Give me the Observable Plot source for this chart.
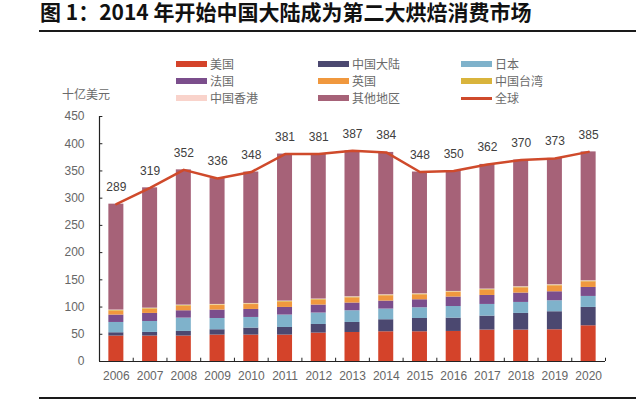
<!DOCTYPE html>
<html><head><meta charset="utf-8">
<script src="https://cdn.jsdelivr.net/npm/d3@7"></script>
<script src="https://cdn.jsdelivr.net/npm/@observablehq/plot@0.6"></script>
<style>
body{margin:0;background:#fff;}
#wrap{position:relative;width:640px;height:401px;overflow:hidden;font-family:"Noto Sans CJK SC","Noto Sans",sans-serif;}
#chart{position:absolute;left:0;top:0;}
#title{position:absolute;left:40px;top:1px;font-size:21px;line-height:21px;font-weight:700;color:#111;white-space:nowrap;}
.hr{position:absolute;left:39px;width:597px;height:2px;background:#1a1a1a;}
.lt{position:absolute;font-size:12px;line-height:14px;color:#6a6a6a;white-space:nowrap;}
.sw{position:absolute;width:31px;}
</style>
</head><body>
<div id="wrap">
  <div id="title">图 1：2014 年开始中国大陆成为第二大烘焙消费市场</div>
  <div class="hr" style="top:30px"></div>
  <div class="hr" style="top:397px"></div>
  <div class="lt" style="left:62px;top:87px">十亿美元</div>
  <div id="legend"></div>
  <div id="chart"></div>
</div>
<script>
const years = [2006,2007,2008,2009,2010,2011,2012,2013,2014,2015,2016,2017,2018,2019,2020];
const seriesNames = ["美国","中国大陆","日本","法国","英国","中国台湾","中国香港","其他地区"];
const seriesColors = ["#d4432a","#4b4870","#7fb2cb","#7b4e8c","#f0983e","#d9b43c","#f9d3cb","#a66278"];
const usa      = [46.7,46.7,46.7,48.5,48.5,48.5,52.2,53.3,54.6,54.6,55.2,57.7,57.7,58.3,65.6];
const china    = [6.1,6.7,8.5,9.8,12.9,14.0,15.8,18.4,22.1,24.4,24.5,25.7,30.6,33.1,33.7];
const japan    = [18.9,20.1,24.5,20.7,19.5,22.8,21.0,21.5,19.6,19.7,21.3,21.4,20.2,20.2,20.2];
const france   = [13.6,14.8,13.5,15.5,14.7,14.0,14.7,14.2,14.7,14.7,17.4,16.5,17.2,16.5,16.5];
const uk       = [7.2,7.7,8.4,8.3,9.0,9.7,9.0,9.5,9.6,9.0,8.3,9.7,9.6,10.9,10.3];
const taiwan   = [1.2,1.2,1.2,1.2,1.2,1.2,1.2,1.2,1.2,1.2,1.2,1.2,1.2,1.2,1.2];
const hongkong = [0.8,0.8,0.8,0.8,0.8,0.8,0.8,0.8,0.8,0.8,0.8,0.8,0.8,0.8,0.8];
const others   = [194.5,221.0,248.4,231.2,241.4,270.0,266.3,268.1,261.4,223.6,221.3,229.0,232.7,232.0,236.7];
const totals   = [289,319,352,336,348,381,381,387,384,348,350,362,370,373,385];
const yTicks   = [0,50,100,150,200,250,300,350,400,450];
const totalName = "全球";
const totalColor = "#cf4a2b";

const seriesValues = [usa,china,japan,france,uk,taiwan,hongkong,others];
const long = [];
seriesNames.forEach((s,i)=>years.forEach((yr,j)=>long.push({year:yr,series:s,value:seriesValues[i][j]})));
const totalData = years.map((yr,i)=>({year:yr,total:totals[i]}));
const half = 0.2225;
const xStart = years[0]-0.5, xEnd = years[years.length-1]+0.5;
const xTickPos = [xStart, ...years.map(y=>y+0.5)];

// legend
const legendOrder = [["美国","中国大陆","日本"],["法国","英国","中国台湾"],["中国香港","其他地区",totalName]];
const colX = [176,318,461], rowY = [64,81,98];
const leg = document.getElementById("legend");
legendOrder.forEach((row,r)=>row.forEach((name,c)=>{
  const sw = document.createElement("div");
  sw.className="sw";
  const isLine = name===totalName;
  const h = isLine?3:6;
  sw.style.left = colX[c]+"px";
  sw.style.top = (rowY[r]-h/2)+"px";
  sw.style.height = h+"px";
  sw.style.background = isLine?totalColor:seriesColors[seriesNames.indexOf(name)];
  leg.appendChild(sw);
  const t = document.createElement("div");
  t.className="lt";
  t.style.left=(colX[c]+34)+"px";
  t.style.top=(rowY[r]-7)+"px";
  t.textContent=name;
  leg.appendChild(t);
}));

const chart = Plot.plot({
  width:640, height:401,
  marginTop:116, marginBottom:40, marginLeft:99, marginRight:35,
  x:{type:"linear", domain:[xStart,xEnd], label:null},
  y:{domain:[0,450], label:null},
  color:{domain:seriesNames, range:seriesColors},
  style:{fontFamily:'"Liberation Sans",Arial,sans-serif', fontSize:"12px", color:"#595959", background:"transparent"},
  marks:[
    Plot.rectY(long, Plot.stackY({x:"year", x1:d=>d.year-half, x2:d=>d.year+half, y:"value", z:"series", order:seriesNames, fill:"series"})),
    Plot.ruleY([0], {stroke:"#222", strokeWidth:1.2}),
    Plot.ruleX([xStart], {stroke:"#222", strokeWidth:1.2}),
    Plot.ruleY(yTicks, {y:d=>d, x1:xStart, x2:xStart+0.1, stroke:"#222"}),
    Plot.ruleX(xTickPos, {x:d=>d, y1:0, y2:6, stroke:"#222"}),
    Plot.axisY(yTicks, {tickSize:0, tickPadding:15, fill:"#666", fontSize:12, label:null}),
    Plot.axisX(years, {tickSize:0, tickPadding:10, fill:"#666", fontSize:12, tickFormat:d=>String(d), label:null}),
    Plot.line(totalData, {x:"year", y:"total", stroke:totalColor, strokeWidth:2.5}),
    Plot.text(totalData, {x:"year", y:"total", text:d=>String(d.total), dy:-17, fill:"#404040", fontSize:12})
  ]
});
document.getElementById("chart").appendChild(chart);
</script>
</body></html>
